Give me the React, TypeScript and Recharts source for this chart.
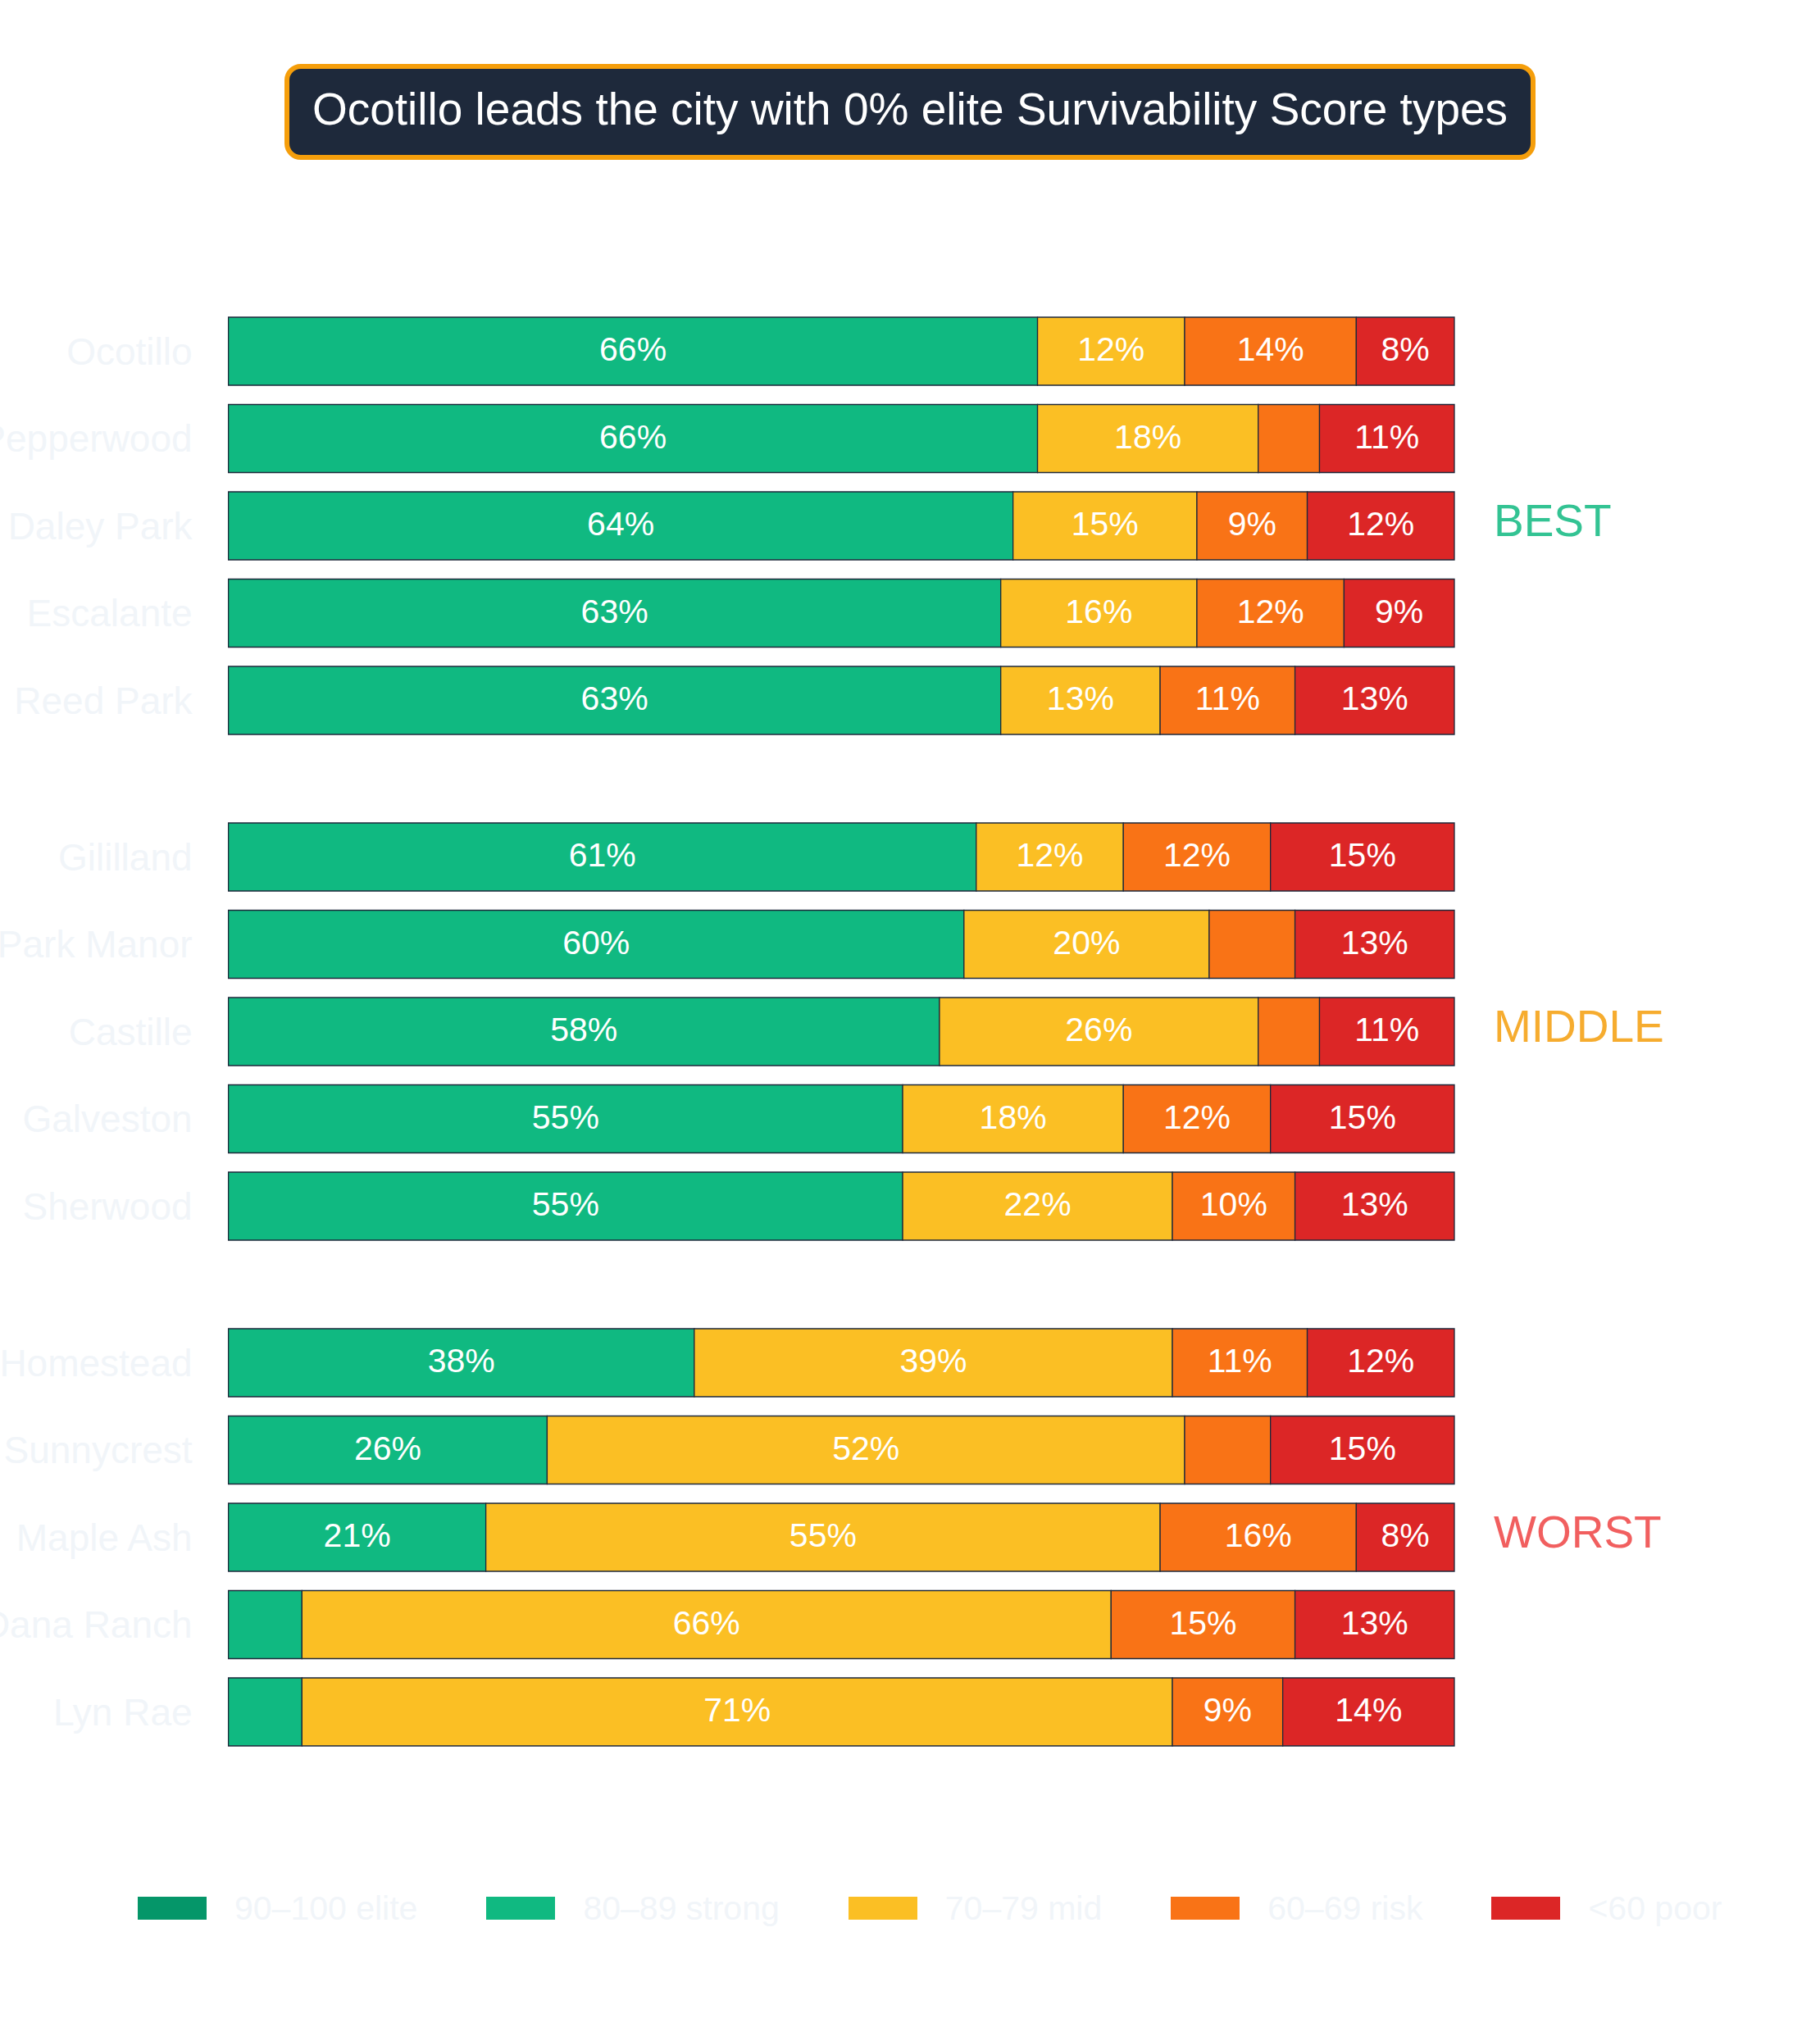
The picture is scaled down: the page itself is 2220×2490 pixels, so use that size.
import React from 'react';
import { BarChart, Bar, XAxis, YAxis, LabelList } from 'recharts';

// neighborhoods, split in three tiers
const bestNames = ['Ocotillo', 'Pepperwood', 'Daley Park', 'Escalante', 'Reed Park'];
const bestElite = [0, 0, 0, 0, 0];
const bestStrong = [66, 66, 64, 63, 63];
const bestMid = [12, 18, 15, 16, 13];
const bestRisk = [14, 5, 9, 12, 11];
const bestPoor = [8, 11, 12, 9, 13];

const middleNames = ['Gililland', 'Park Manor', 'Castille', 'Galveston', 'Sherwood'];
const middleElite = [0, 0, 0, 0, 0];
const middleStrong = [61, 60, 58, 55, 55];
const middleMid = [12, 20, 26, 18, 22];
const middleRisk = [12, 7, 5, 12, 10];
const middlePoor = [15, 13, 11, 15, 13];

const worstNames = ['Homestead', 'Sunnycrest', 'Maple Ash', 'Dana Ranch', 'Lyn Rae'];
const worstElite = [0, 0, 0, 0, 0];
const worstStrong = [38, 26, 21, 6, 6];
const worstMid = [39, 52, 55, 66, 71];
const worstRisk = [11, 7, 16, 15, 9];
const worstPoor = [12, 15, 8, 13, 14];

const seriesKeys = ['elite', 'strong', 'mid', 'risk', 'poor'];
const seriesLabels = ['90–100 elite', '80–89 strong', '70–79 mid', '60–69 risk', '<60 poor'];
const seriesColors = ['#059669', '#10b981', '#fbbf24', '#f97316', '#dc2626'];

const FONT = '"Liberation Sans", Arial, Helvetica, sans-serif';
const ROW = 106.5;
const CHART_H = ROW * 5;

const buildRows = (names: string[], cols: number[][]) =>
  names.map((name, i) => {
    const row: Record<string, string | number> = { name };
    seriesKeys.forEach((k, j) => { row[k] = cols[j][i]; });
    return row;
  });

const groups = [
  { top: 374.6, tag: 'BEST', tagColor: '#10b981', rows: buildRows(bestNames, [bestElite, bestStrong, bestMid, bestRisk, bestPoor]) },
  { top: 991.9, tag: 'MIDDLE', tagColor: '#f59e0b', rows: buildRows(middleNames, [middleElite, middleStrong, middleMid, middleRisk, middlePoor]) },
  { top: 1609, tag: 'WORST', tagColor: '#ef4444', rows: buildRows(worstNames, [worstElite, worstStrong, worstMid, worstRisk, worstPoor]) },
];

const pct = (v: any) => (Number(v) >= 8 ? `${v}%` : '');

const Group: React.FC<{ top: number; tag: string; tagColor: string; rows: any[] }> = ({ top, tag, tagColor, rows }) => (
  <div style={{ position: 'absolute', left: 0, top, width: 2220, height: CHART_H }}>
    <BarChart
      width={2220}
      height={CHART_H}
      data={rows}
      layout="vertical"
      margin={{ top: 0, right: 446, bottom: 0, left: 0 }}
    >
      <XAxis type="number" domain={[0, 100]} hide />
      <YAxis
        type="category"
        dataKey="name"
        width={278.6}
        axisLine={false}
        tickLine={false}
        tickSize={0}
        tickMargin={44}
        interval={0}
        tick={{ fill: '#f1f5f9', fontSize: 46, fontFamily: FONT }}
      />
      {seriesKeys.map((k, i) => (
        <Bar
          key={k}
          dataKey={k}
          stackId="a"
          fill={seriesColors[i]}
          stroke="#1e293b"
          strokeWidth={1.3}
          barSize={83}
          isAnimationActive={false}
        >
          <LabelList
            dataKey={k}
            position="center"
            formatter={pct}
            fill="#ffffff"
            fontSize={41}
            fontFamily={FONT}
            dy={-3}
          />
        </Bar>
      ))}
    </BarChart>
    <div
      style={{
        position: 'absolute',
        left: 1822,
        top: ROW * 2.5 - 6 - 27,
        fontSize: 55,
        lineHeight: '55px',
        fontFamily: FONT,
        color: tagColor,
        opacity: 0.85,
        whiteSpace: 'nowrap',
      }}
    >
      {tag}
    </div>
  </div>
);

export default function App() {
  return (
    <div style={{ position: 'absolute', left: 0, top: 0, width: 2220, height: 2490, background: '#ffffff', fontFamily: FONT, overflow: 'hidden' }}>
      <div
        style={{
          position: 'absolute',
          left: 347,
          top: 78,
          width: 1526,
          height: 117,
          boxSizing: 'border-box',
          border: '6px solid #f59e0b',
          borderRadius: 20,
          background: '#1e293b',
          color: '#ffffff',
          fontSize: 55,
          display: 'flex',
          alignItems: 'center',
          justifyContent: 'center',
          paddingBottom: 8,
          whiteSpace: 'nowrap',
        }}
      >
        Ocotillo leads the city with 0% elite Survivability Score types
      </div>

      {groups.map((g) => (
        <Group key={g.tag} {...g} />
      ))}

      <div style={{ position: 'absolute', left: 168, top: 2314, display: 'flex', alignItems: 'center', height: 28 }}>
        {seriesLabels.map((label, i) => (
          <div key={label} style={{ display: 'flex', alignItems: 'center', marginRight: 84 }}>
            <div style={{ width: 84, height: 28, background: seriesColors[i], marginRight: 34 }} />
            <span style={{ fontSize: 41, lineHeight: '28px', color: '#f1f5f9', whiteSpace: 'nowrap' }}>{label}</span>
          </div>
        ))}
      </div>
    </div>
  );
}
